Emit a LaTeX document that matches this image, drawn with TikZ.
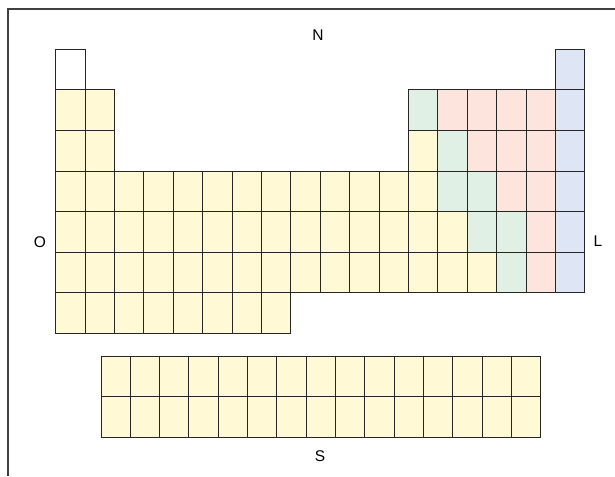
\documentclass[tikz,border=0pt]{standalone}
\usepackage{fontspec}
\setmainfont{Liberation Sans}
\definecolor{cy}{HTML}{FFF9D6}
\definecolor{cg}{HTML}{E0F0E5}
\definecolor{cr}{HTML}{FDE4DC}
\definecolor{cb}{HTML}{DEE6F5}
\begin{document}
\begin{tikzpicture}[x=1pt,y=-1pt,
  cellbox/.style={draw=black!85,line width=0.9pt},
  framel/.style={draw=black!75,line width=1.3pt},
  lab/.style={font=\fontsize{15.5}{18}\selectfont,inner sep=0pt}]
\useasboundingbox (0,0) rectangle (615,476);
\def\cw{29.4}\def\ch{40.6}
\def\cx{55.7}\def\cyy{49.3}
% main table
\foreach \r in {4,5,6}{\foreach \c in {1,...,13}{
  \filldraw[cellbox,fill=cy] ({\cx+(\c-1)*\cw},{\cyy+(\r-1)*\ch}) rectangle ++(\cw,\ch);}}
\foreach \r in {2,3}{\foreach \c in {1,2}{
  \filldraw[cellbox,fill=cy] ({\cx+(\c-1)*\cw},{\cyy+(\r-1)*\ch}) rectangle ++(\cw,\ch);}}
\foreach \c in {1,...,8}{
  \filldraw[cellbox,fill=cy] ({\cx+(\c-1)*\cw},{\cyy+6*\ch}) rectangle ++(\cw,\ch);}
\foreach \r/\c in {3/13,5/14,6/14,6/15}{
  \filldraw[cellbox,fill=cy] ({\cx+(\c-1)*\cw},{\cyy+(\r-1)*\ch}) rectangle ++(\cw,\ch);}
\foreach \r/\c in {2/13,3/14,4/14,4/15,5/15,5/16,6/16}{
  \filldraw[cellbox,fill=cg] ({\cx+(\c-1)*\cw},{\cyy+(\r-1)*\ch}) rectangle ++(\cw,\ch);}
\foreach \r/\c in {2/14,2/15,2/16,2/17,3/15,3/16,3/17,4/16,4/17,5/17,6/17}{
  \filldraw[cellbox,fill=cr] ({\cx+(\c-1)*\cw},{\cyy+(\r-1)*\ch}) rectangle ++(\cw,\ch);}
\foreach \r in {1,...,6}{
  \filldraw[cellbox,fill=cb] ({\cx+17*\cw},{\cyy+(\r-1)*\ch}) rectangle ++(\cw,\ch);}
\filldraw[cellbox,fill=white] (\cx,\cyy) rectangle ++(\cw,\ch);
% bottom block
\foreach \r in {1,2}{\foreach \c in {1,...,15}{
  \filldraw[cellbox,fill=cy] ({101+(\c-1)*29.31},{356+(\r-1)*40.5}) rectangle ++(29.31,40.5);}}
% frame
\draw[framel] (8,476) -- (8,9) -- (615,9);
% labels
\node[lab] (N) at (318,35) {N};
\node[lab] (O) at (40,242) {O};
\node[lab] (L) at (598,241) {L};
\node[lab] (S) at (320,456) {S};
\end{tikzpicture}
\end{document}
